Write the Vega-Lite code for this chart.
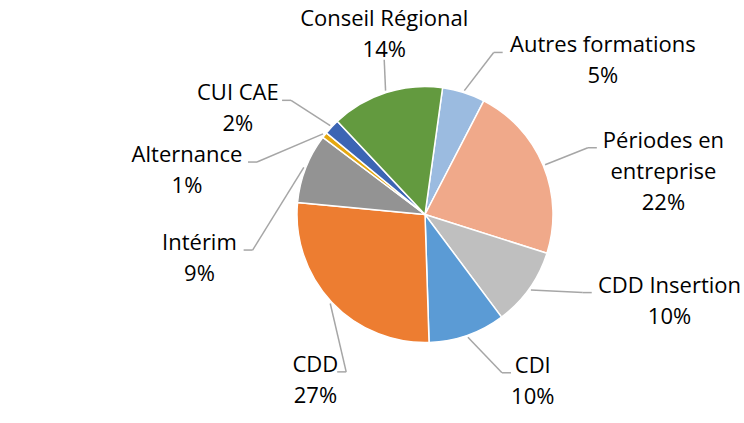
{
  "$schema": "https://vega.github.io/schema/vega-lite/v6.json",
  "width": 638,
  "height": 417,
  "autosize": {"type": "none"},
  "padding": {"left": 106, "top": 6, "right": 0, "bottom": 0},
  "background": "white",
  "config": {"view": {"stroke": null}, "font": "Open Sans"},
  "data": {
    "values": [
      {"order": 1, "category": "Autres formations", "value": 5.4},
      {"order": 2, "category": "Périodes en entreprise", "value": 22.3},
      {"order": 3, "category": "CDD Insertion", "value": 9.9},
      {"order": 4, "category": "CDI", "value": 9.7},
      {"order": 5, "category": "CDD", "value": 27.0},
      {"order": 6, "category": "Intérim", "value": 8.8},
      {"order": 7, "category": "Alternance", "value": 0.7},
      {"order": 8, "category": "CUI CAE", "value": 2.0},
      {"order": 9, "category": "Conseil Régional", "value": 14.2}
    ]
  },
  "transform": [
    {"calculate": "datum.value + 12", "as": "lw"},
    {"window": [{"op": "sum", "field": "value", "as": "cum"}, {"op": "sum", "field": "lw", "as": "lcum"}], "sort": [{"field": "order"}], "frame": [null, 0]},
    {"joinaggregate": [{"op": "sum", "field": "value", "as": "tot"}, {"op": "sum", "field": "lw", "as": "ltot"}]},
    {"calculate": "0.138 + 2*PI*(datum.cum - datum.value/2)/datum.tot", "as": "a"},
    {"calculate": "0.138 + 2*PI*(datum.lcum - datum.lw/2)/datum.ltot", "as": "b"},
    {"calculate": "sin(datum.b) > 0.3 ? 1 : (sin(datum.b) < -0.3 ? -1 : 0)", "as": "side"},
    {"calculate": "datum.side === 0 ? 160 : 176", "as": "rl"},
    {"calculate": "130*sin(datum.a)", "as": "sx"},
    {"calculate": "130*cos(datum.a)", "as": "sy"},
    {"calculate": "datum.rl*sin(datum.b)", "as": "ex"},
    {"calculate": "datum.rl*cos(datum.b)", "as": "ey"},
    {"calculate": "datum.ex + 9*datum.side", "as": "hx"},
    {"calculate": "length(datum.category) > 20", "as": "wrap"},
    {"calculate": "lastindexof(datum.category, ' ')", "as": "sp"},
    {"calculate": "datum.wrap ? substring(datum.category, 0, datum.sp) : datum.category", "as": "line1"},
    {"calculate": "datum.wrap ? substring(datum.category, datum.sp + 1) : ''", "as": "line2"},
    {"calculate": "format(datum.value/100, '.0%')", "as": "pct"},
    {"calculate": "datum.line1 + (datum.wrap ? '\\n' + datum.line2 : '') + '\\n' + datum.pct", "as": "label"},
    {"calculate": "datum.wrap ? 3 : 2", "as": "nl"},
    {"calculate": "5.6*max(length(datum.line1), length(datum.line2), length(datum.pct))", "as": "halfw"},
    {"calculate": "datum.ex + datum.side*(14 + datum.halfw)", "as": "tx"},
    {"calculate": "datum.side !== 0 ? datum.ey : (datum.ey > 0 ? datum.ey + (datum.nl - 1)*31 + 3 : datum.ey - 20)", "as": "ty"}
  ],
  "layer": [
    {
      "mark": {"type": "arc", "outerRadius": 128, "stroke": "white", "strokeWidth": 1.5},
      "encoding": {
        "theta": {"field": "value", "type": "quantitative", "stack": true, "scale": {"range": [0.138, 6.4212]}},
        "order": {"field": "order", "type": "quantitative"},
        "color": {
          "field": "category", "type": "nominal", "legend": null,
          "scale": {
            "domain": ["Autres formations", "Périodes en entreprise", "CDD Insertion", "CDI", "CDD", "Intérim", "Alternance", "CUI CAE", "Conseil Régional"],
            "range": ["#9BBBE0", "#F0A98A", "#BFBFBF", "#5B9BD5", "#ED7D31", "#939393", "#E5A80F", "#3C65B4", "#639A3F"]
          }
        }
      }
    },
    {
      "mark": {"type": "rule", "color": "#A6A6A6", "strokeWidth": 1.5},
      "encoding": {
        "x": {"field": "sx", "type": "quantitative", "scale": {"domain": [-319, 319], "nice": false, "zero": false}, "axis": null},
        "y": {"field": "sy", "type": "quantitative", "scale": {"domain": [-208.5, 208.5], "nice": false, "zero": false}, "axis": null},
        "x2": {"field": "ex"},
        "y2": {"field": "ey"}
      }
    },
    {
      "mark": {"type": "rule", "color": "#A6A6A6", "strokeWidth": 1.5},
      "encoding": {
        "x": {"field": "ex", "type": "quantitative"},
        "y": {"field": "ey", "type": "quantitative"},
        "x2": {"field": "hx"},
        "y2": {"field": "ey"}
      }
    },
    {
      "mark": {
        "type": "text", "fontSize": 22, "lineHeight": 31, "lineBreak": "\n", "color": "#000000",
        "align": "center", "baseline": "alphabetic"
      },
      "encoding": {
        "x": {"field": "tx", "type": "quantitative"},
        "y": {"field": "ty", "type": "quantitative"},
        "text": {"field": "label", "type": "nominal"}
      }
    }
  ]
}
